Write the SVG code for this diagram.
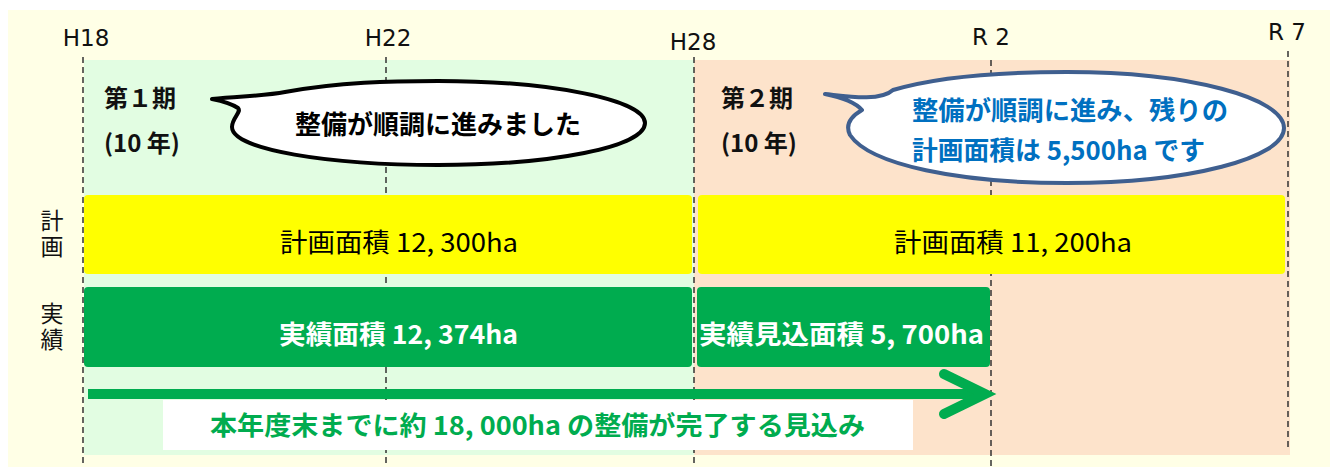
<svg xmlns="http://www.w3.org/2000/svg" width="1330" height="467" viewBox="0 0 1330 467">
<style>
.yr{font-family:"DejaVu Sans","Noto Sans",sans-serif;font-size:23px;fill:#111}
.jp{font-family:"Noto Sans CJK JP",sans-serif}
.per{font-size:24px;font-weight:bold;fill:#111}
.side{font-size:23px;fill:#111;writing-mode:vertical-rl;letter-spacing:3px}
.bar{font-size:26px}
.dash{stroke:#333;stroke-width:1.5;stroke-dasharray:6 4;fill:none}
</style>
<rect x="0" y="0" width="1330" height="467" fill="#fff"/>
<rect x="8" y="10" width="1322" height="457" fill="#FFFFE6"/>
<rect x="84" y="60" width="610" height="395" fill="#E2FDE2"/>
<rect x="694" y="60" width="596" height="395" fill="#FDE3CB"/>

<g id="axis">
<line class="dash" x1="83" y1="57" x2="83" y2="467"/>
<line class="dash" x1="386" y1="57" x2="386" y2="467"/>
<line class="dash" x1="694" y1="57" x2="694" y2="467"/>
<line class="dash" x1="991" y1="60" x2="991" y2="467"/>
<line class="dash" x1="1288" y1="51" x2="1288" y2="448"/>
<text class="yr" x="86" y="46" text-anchor="middle">H18</text>
<text class="yr" x="388" y="46" text-anchor="middle">H22</text>
<text class="yr" x="693" y="50" text-anchor="middle">H28</text>
<text class="yr" x="991" y="45" text-anchor="middle">R 2</text>
<text class="yr" x="1287" y="40" text-anchor="middle">R 7</text>
</g>

<g id="side-labels" class="jp">
<text class="side" x="52" y="209">計画</text>
<text class="side" x="52" y="302">実績</text>
</g>

<g id="period1" class="jp per">
<text x="104" y="107">第１期</text>
<text x="104" y="152">(10 年)</text>
</g>
<g id="period2" class="jp per">
<text x="721" y="107">第２期</text>
<text x="721" y="152">(10 年)</text>
</g>

<g id="bubble1">
<path d="M212,99 C240,96 265,96 285,92 C340,82 390,81 438,81 C552,81 645,100 645,123 C645,147 552,165 438,165 C330,165 232,150 232,127 C232,118 242,112 238,108 C232,104 222,101 212,99 Z" fill="#fff" stroke="#000" stroke-width="4" stroke-linejoin="round"/>
<text class="jp" x="438" y="134" text-anchor="middle" font-size="26" font-weight="bold" fill="#000">整備が順調に進みました</text>
</g>

<g id="bubble2">
<path d="M825,94 C845,96 880,102 893,90 C940,76 1000,72 1067,72 C1190,72 1284,98 1284,128 C1284,158 1190,183 1067,183 C960,183 870,165 850,135 C845,125 850,117 862,110 C855,102 840,97 825,94 Z" fill="#fff" stroke="#3F5F8F" stroke-width="4" stroke-linejoin="round"/>
<text class="jp" x="912" y="120" textLength="316" lengthAdjust="spacingAndGlyphs" font-size="26" font-weight="bold" fill="#0070C0">整備が順調に進み、残りの</text>
<text class="jp" x="912" y="160" textLength="293" lengthAdjust="spacingAndGlyphs" font-size="26" font-weight="bold" fill="#0070C0">計画面積は 5,500ha です</text>
</g>

<g id="plan1">
<rect x="84" y="195" width="608" height="79" rx="4" fill="#FFFF00"/>
<text class="jp bar" x="280" y="252" textLength="238" lengthAdjust="spacingAndGlyphs" fill="#000">計画面積 12, 300ha</text>
</g>
<g id="plan2">
<rect x="698" y="195" width="587" height="79" rx="4" fill="#FFFF00"/>
<text class="jp bar" x="894" y="252" textLength="238" lengthAdjust="spacingAndGlyphs" fill="#000">計画面積 11, 200ha</text>
</g>
<g id="actual1">
<rect x="84" y="287" width="608" height="80" rx="4" fill="#00AC4F"/>
<text class="jp bar" x="279" y="344" textLength="239" lengthAdjust="spacingAndGlyphs" fill="#fff" font-weight="bold">実績面積 12, 374ha</text>
</g>
<g id="actual2">
<rect x="697" y="287" width="293" height="80" rx="4" fill="#00AC4F"/>
<text class="jp bar" x="699" y="344" textLength="285" lengthAdjust="spacingAndGlyphs" fill="#fff" font-weight="bold">実績見込面積 5, 700ha</text>
</g>

<g id="connectors">
<line x1="88" y1="394" x2="982" y2="394" stroke="#00AC4F" stroke-width="10"/>
<polyline points="944,374 985,394 944,414" fill="none" stroke="#00AC4F" stroke-width="10" stroke-linecap="round" stroke-linejoin="miter"/>
</g>

<g id="note">
<rect x="163" y="400" width="750" height="50" fill="#fff"/>
<text class="jp" x="210" y="435" textLength="655" lengthAdjust="spacingAndGlyphs" font-size="26" font-weight="bold" fill="#00AC4F">本年度末までに約 18, 000ha の整備が完了する見込み</text>
</g>
</svg>
